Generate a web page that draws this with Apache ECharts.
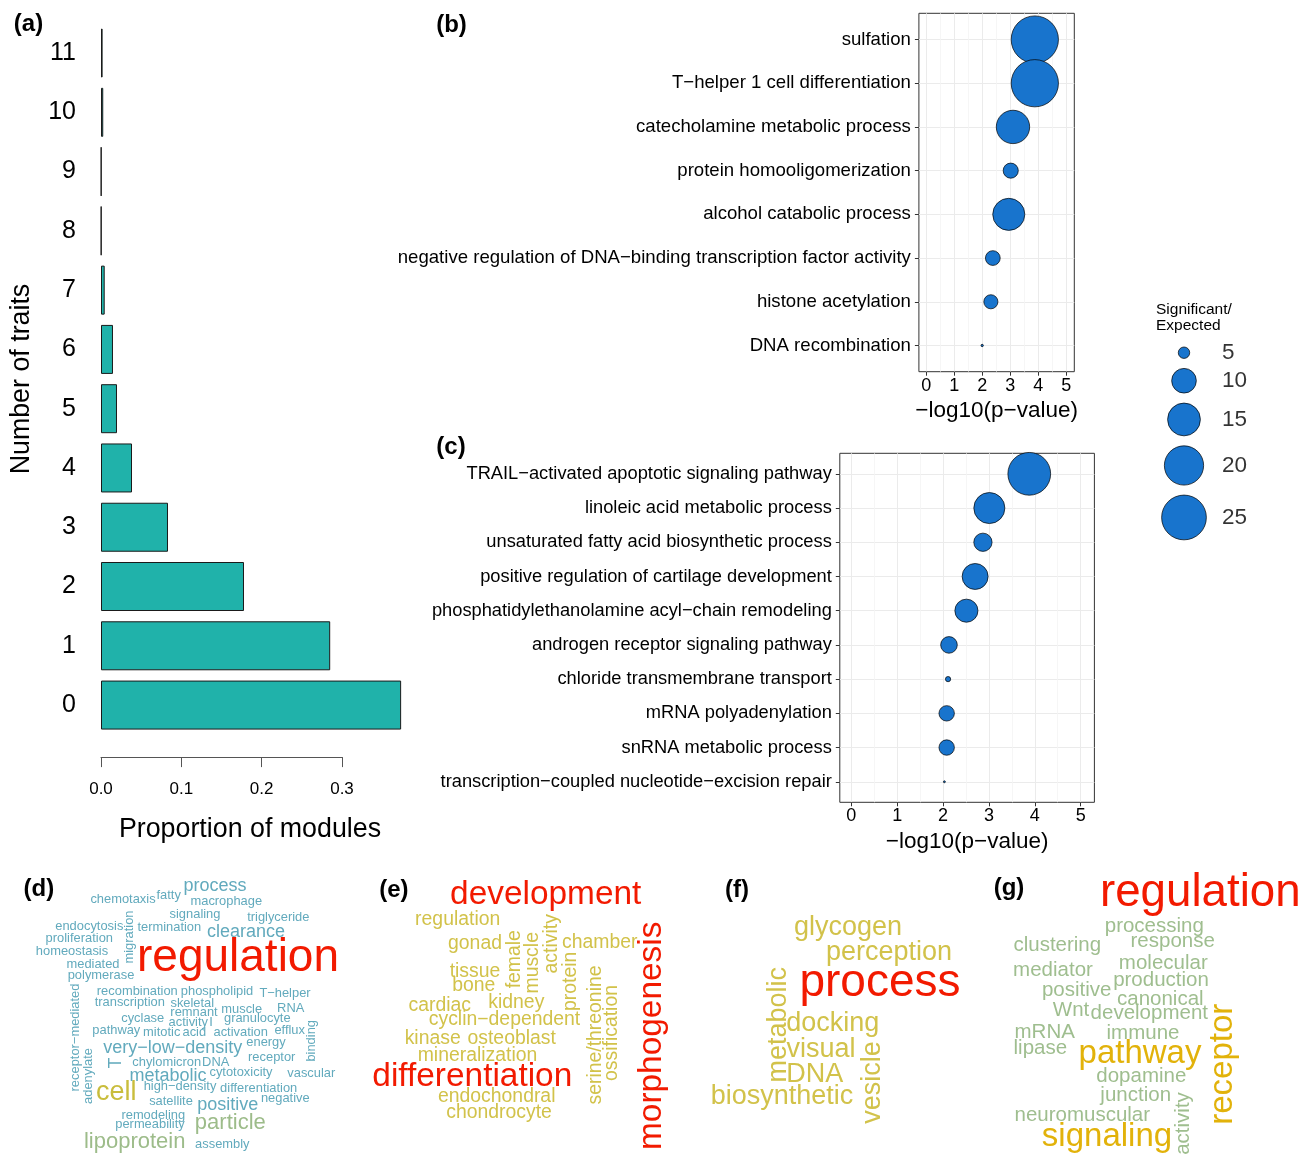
<!DOCTYPE html>
<html><head><meta charset="utf-8">
<script src="https://cdn.jsdelivr.net/npm/echarts@6/dist/echarts.min.js"></script>
<style>html,body{margin:0;padding:0;background:#fff}#c{width:1312px;height:1155px}</style>
</head><body><div id="c"></div>
<script>
// ---------- (a) ----------
const traitCats = ['0','1','2','3','4','5','6','7','8','9','10','11'];
const moduleProportion = [0.3736,0.2853,0.1780,0.0834,0.0386,0.0199,0.0149,0.0046,0.0004,0.0004,0.0028,0.0020];
// ---------- (b) ----------
const bTerms = ['sulfation','T\u2212helper 1 cell differentiation','catecholamine metabolic process','protein homooligomerization','alcohol catabolic process','negative regulation of DNA\u2212binding transcription factor activity','histone acetylation','DNA recombination'];
const bLogP = [3.88,3.88,3.10,3.02,2.95,2.38,2.31,2.00];
const bRatio = [27.5,27.5,15.4,6.0,14.5,5.9,5.7,3.82];
// ---------- (c) ----------
const cTerms = ['TRAIL\u2212activated apoptotic signaling pathway','linoleic acid metabolic process','unsaturated fatty acid biosynthetic process','positive regulation of cartilage development','phosphatidylethanolamine acyl\u2212chain remodeling','androgen receptor signaling pathway','chloride transmembrane transport','mRNA polyadenylation','snRNA metabolic process','transcription\u2212coupled nucleotide\u2212excision repair'];
const cLogP = [3.88,3.01,2.87,2.70,2.51,2.13,2.11,2.08,2.08,2.03];
const cRatio = [23.1,13.8,7.1,10.7,9.2,6.5,4.0,6.1,6.1,3.81];
const pTicks = [0,1,2,3,4,5];
const pMinorTicks = [0.5,1.5,2.5,3.5,4.5];
const sizeLegend = [5,10,15,20,25];
// ---------- word clouds: [word, frequency] ----------
const wordsD = [['regulation',8],['cell',4],['particle',3],['lipoprotein',3],['process',2],['clearance',2],['very\u2212low\u2212density',2],['metabolic',2],['positive',2],['T',2],
 ['chemotaxis',1],['fatty',1],['macrophage',1],['signaling',1],['triglyceride',1],['endocytosis',1],['migration',1],['termination',1],['proliferation',1],['homeostasis',1],['mediated',1],['polymerase',1],['receptor\u2212mediated',1],['recombination',1],['phospholipid',1],['T\u2212helper',1],['transcription',1],['skeletal',1],['muscle',1],['RNA',1],['remnant',1],['cyclase',1],['granulocyte',1],['activity',1],['I',1],['pathway',1],['mitotic',1],['acid',1],['activation',1],['efflux',1],['binding',1],['energy',1],['adenylate',1],['receptor',1],['chylomicron',1],['DNA',1],['vascular',1],['cytotoxicity',1],['high\u2212density',1],['differentiation',1],['satellite',1],['negative',1],['remodeling',1],['permeability',1],['assembly',1]];
const wordsE = [['development',3],['differentiation',3],['morphogenesis',3],['regulation',1],['gonad',1],['female',1],['muscle',1],['activity',1],['chamber',1],['tissue',1],['bone',1],['protein',1],['serine/threonine',1],['ossification',1],['cardiac',1],['kidney',1],['cyclin\u2212dependent',1],['kinase',1],['osteoblast',1],['mineralization',1],['endochondral',1],['chondrocyte',1]];
const wordsF = [['process',3],['glycogen',1],['perception',1],['metabolic',1],['docking',1],['visual',1],['DNA',1],['vesicle',1],['biosynthetic',1]];
const wordsG = [['regulation',4],['pathway',3],['receptor',3],['signaling',3],['processing',1],['response',1],['clustering',1],['mediator',1],['molecular',1],['production',1],['positive',1],['canonical',1],['Wnt',1],['development',1],['mRNA',1],['immune',1],['lipase',1],['dopamine',1],['junction',1],['activity',1],['neuromuscular',1]];

// ---------- layout (word-cloud placement: x, y, rotation) ----------
const layoutD = {'regulation':[238,955.6,0],'cell':[116.3,1091.2,0],'particle':[230.3,1121.6,0],'lipoprotein':[134.7,1140.6,0],'process':[215,885.4,0],'clearance':[246,931,0],'very\u2212low\u2212density':[172.7,1046.9,0],'metabolic':[168,1075.4,0],'positive':[227.7,1104.4,0],'T':[115,1063,90],
 'chemotaxis':[123,899.1,0],'fatty':[168.7,894.5,0],'macrophage':[226.3,901.1,0],'signaling':[195,913.8,0],'triglyceride':[278.3,917.1,0],'endocytosis':[89.3,926.1,0],'migration':[128.5,937,90],'termination':[169.3,927.1,0],'proliferation':[79.3,938.1,0],'homeostasis':[72,951.1,0],'mediated':[93,964.1,0],'polymerase':[101,974.8,0],'receptor\u2212mediated':[74.8,1037.5,90],'recombination':[137.3,990.4,0],'phospholipid':[217,990.4,0],'T\u2212helper':[285,993.1,0],'transcription':[129.8,1002.1,0],'skeletal':[192.3,1003.1,0],'muscle':[241.7,1008.8,0],'RNA':[290.7,1008.1,0],'remnant':[194,1012.1,0],'cyclase':[142.7,1017.4,0],'granulocyte':[257.3,1017.8,0],'activity':[188.3,1021.4,0],'I':[211,1022,0],'pathway':[116.3,1029.4,0],'mitotic':[161.7,1031.4,0],'acid':[194.3,1031.4,0],'activation':[240.7,1031.4,0],'efflux':[289.7,1030.1,0],'binding':[310.8,1040.8,90],'energy':[266,1041.4,0],'adenylate':[88.1,1076,90],'receptor':[271.7,1057.1,0],'chylomicron':[166.7,1061.4,0],'DNA':[215.7,1062.1,0],'vascular':[311.3,1072.8,0],'cytotoxicity':[241,1072.1,0],'high\u2212density':[180,1086.1,0],'differentiation':[258.7,1087.8,0],'satellite':[171,1100.4,0],'negative':[285.3,1097.8,0],'remodeling':[153.3,1114.4,0],'permeability':[150,1123.8,0],'assembly':[222.3,1143.7,0]};
const layoutE = {'development':[545.7,892.7,0],'differentiation':[472.3,1074.9,0],'morphogenesis':[650,1035.8,90],'regulation':[457.7,918.2,0],'gonad':[475,942.6,0],'female':[513,959.2,90],'muscle':[531.3,962.8,90],'activity':[550.4,943.8,90],'chamber':[599.7,941.9,0],'tissue':[475,970.6,0],'bone':[473.7,984.9,0],'protein':[569,981.3,90],'serine/threonine':[594.5,1035,90],'ossification':[610.8,1033,90],'cardiac':[439.7,1004,0],'kidney':[516.3,1001,0],'cyclin\u2212dependent':[504.5,1018.8,0],'kinase':[432.7,1037,0],'osteoblast':[511.7,1037,0],'mineralization':[477.5,1054.2,0],'endochondral':[496.7,1095.9,0],'chondrocyte':[499,1111.4,0]};
const layoutF = {'process':[880,980.6,0],'glycogen':[848,925.5,0],'perception':[889,950.5,0],'metabolic':[777,1024.7,90],'docking':[832.7,1022.3,0],'visual':[821,1047.9,0],'DNA':[814.7,1073.2,0],'vesicle':[871.3,1082.5,90],'biosynthetic':[782,1094.5,0]};
const layoutG = {'regulation':[1200.3,890.7,0],'pathway':[1140,1051.8,0],'receptor':[1220.5,1064.2,90],'signaling':[1107,1135,0],'processing':[1154.3,925.5,0],'response':[1172.7,940.2,0],'clustering':[1057.3,944.5,0],'mediator':[1053,969.5,0],'molecular':[1163.3,962.1,0],'production':[1161,978.8,0],'positive':[1076.7,989.5,0],'canonical':[1160.3,997.8,0],'Wnt':[1071,1009.5,0],'development':[1149.3,1012.1,0],'mRNA':[1044.7,1031.1,0],'immune':[1143,1032.1,0],'lipase':[1040.3,1046.8,0],'dopamine':[1141.3,1075.5,0],'junction':[1135.7,1094.5,0],'activity':[1182.3,1123.5,90],'neuromuscular':[1082.3,1114.5,0]};
// frequency -> font size / colour per cloud
const RED = '#F21A00';
const styleD = {8:[46,RED],4:[27,'#C9BD3C'],3:[22,'#9DBC8A'],2:[18,'#62AABD'],1:[12.9,'#62AABD']};
const styleE = {3:[33.4,RED],1:[19.4,'#D2C24A']};
const styleF = {3:[46,RED],1:[27,'#D2C24A']};
const styleG = {4:[45.7,RED],3:[33,'#E2B20A'],1:[20.5,'#9FBE8F']};

const FONT = '"Liberation Sans", Arial, Helvetica, sans-serif';
function bubbleSize(v){ return 1 + 9.5*Math.sqrt(Math.max(v-3.8,0)); }

function cloudSeries(words, layout, style){
  return {
    type:'scatter', xAxisIndex:6, yAxisIndex:4, silent:true, symbolSize:1,
    itemStyle:{color:'rgba(0,0,0,0)'}, animation:false, clip:false,
    label:{show:true, position:'inside', formatter:'{b}', fontFamily:FONT, textBorderWidth:0, opacity:1},
    data: words.map(([w,f]) => {
      const L = layout[w], s = style[f];
      const dx = L[2] ? s[0]*0.06 : 0, dy = L[2] ? 0 : s[0]*0.06;
      return {name:w, value:[L[0]+dx, L[1]+dy], label:{fontSize:s[0], color:s[1], rotate:L[2]}};
    })
  };
}

// legend positions from symbol sizes
const legY = []; { let acc=0; sizeLegend.forEach(v=>{ const d=bubbleSize(v); legY.push(acc+(d+10)/2); acc+=d+10; }); }

function dotAxisX(gridIndex, min, max){
  return {type:'value', gridIndex, min, max, position:'bottom',
    axisLine:{show:false, onZero:false},
    axisTick:{show:true, customValues:pTicks, length:4, lineStyle:{color:'#333'}},
    axisLabel:{customValues:pTicks, fontSize:18, color:'#000', fontFamily:FONT, margin:5},
    splitLine:{show:true, lineStyle:{color:'#EBEBEB', width:1}},
    name:'\u2212log10(p\u2212value)', nameLocation:'middle', nameGap:28,
    nameTextStyle:{fontSize:22.5, color:'#000', fontFamily:FONT}};
}
function minorAxisX(gridIndex, min, max){
  return {type:'value', gridIndex, min, max, position:'top',
    axisLine:{show:false, onZero:false}, axisLabel:{show:false},
    axisTick:{show:false, customValues:pMinorTicks},
    splitLine:{show:true, lineStyle:{color:'#F4F4F4', width:0.8}}};
}
function dotAxisY(gridIndex, terms, fs){
  return {type:'value', gridIndex, min:-0.6, max:terms.length-1+0.6, inverse:true, position:'left',
    axisLine:{show:false, onZero:false},
    axisTick:{show:true, customValues:terms.map((t,i)=>i), length:4, lineStyle:{color:'#333'}},
    axisLabel:{customValues:terms.map((t,i)=>i), formatter:v=>terms[Math.round(v)], fontSize:fs, color:'#000', fontFamily:FONT, margin:8},
    splitLine:{show:true, lineStyle:{color:'#EBEBEB', width:1}}};
}
function dotSeries(xi, yi, logp, ratio){
  return {type:'scatter', xAxisIndex:xi, yAxisIndex:yi, clip:false,
    data: logp.map((x,i)=>[x,i,ratio[i]]),
    symbolSize: v=>bubbleSize(v[2]),
    itemStyle:{color:'#1874CD', borderColor:'#000', borderWidth:0.7, opacity:1}};
}

const chart = echarts.init(document.getElementById('c'), null, {renderer:'canvas'});
const gridBase = {containLabel:false, outerBoundsMode:'none'};
const lbl = (t,x,y)=>({type:'text', style:{text:t, x, y, textAlign:'center', textVerticalAlign:'middle', font:'bold 24px '+FONT, fill:'#000'}});
chart.setOption({
  animation:false,
  backgroundColor:'#fff',
  textStyle:{fontFamily:FONT},
  grid:[
    Object.assign({left:101, top:23.4, width:241, height:711.3}, gridBase),
    Object.assign({left:918.9, top:13.3, width:155.4, height:358.4, show:true, borderColor:'#333', borderWidth:1}, gridBase),
    Object.assign({left:839.8, top:453.3, width:254.6, height:349, show:true, borderColor:'#333', borderWidth:1}, gridBase),
    Object.assign({left:1150, top:342, width:100, height:200}, gridBase),
    Object.assign({left:0, top:860, width:1312, height:295}, gridBase)
  ],
  xAxis:[
    {type:'value', gridIndex:0, min:0, max:0.3, interval:0.1, offset:22.4, position:'bottom',
      axisLine:{show:true, onZero:false, lineStyle:{color:'#555', width:1}},
      axisTick:{show:true, length:10, lineStyle:{color:'#555', width:1}},
      axisLabel:{formatter:v=>v.toFixed(1), fontSize:17, color:'#000', margin:24, fontFamily:FONT},
      splitLine:{show:false}},
    dotAxisX(1, -0.26, 5.29),
    minorAxisX(1, -0.26, 5.29),
    dotAxisX(2, -0.25, 5.3),
    minorAxisX(2, -0.25, 5.3),
    {type:'value', gridIndex:3, min:0, max:100, show:false},
    {type:'value', gridIndex:4, min:0, max:1312, show:false}
  ],
  yAxis:[
    {type:'category', gridIndex:0, data:traitCats,
      axisLine:{show:false}, axisTick:{show:false},
      axisLabel:{fontSize:25, color:'#000', margin:25, fontFamily:FONT},
      name:'Number of traits', nameLocation:'middle', nameGap:66, nameRotate:90,
      nameTextStyle:{fontSize:26.8, color:'#000', fontFamily:FONT}},
    dotAxisY(1, bTerms, 18.6),
    dotAxisY(2, cTerms, 18.3),
    {type:'value', gridIndex:3, min:0, max:200, inverse:true, show:false},
    {type:'value', gridIndex:4, min:860, max:1155, inverse:true, show:false}
  ],
  series:[
    {type:'bar', xAxisIndex:0, yAxisIndex:0, data:moduleProportion, barWidth:49, clip:false,
      itemStyle:{color:'#20B2AA', borderColor:'#1a1a1a', borderWidth:1}},
    dotSeries(1,1,bLogP,bRatio),
    dotSeries(3,2,cLogP,cRatio),
    {type:'scatter', xAxisIndex:5, yAxisIndex:3, clip:false,
      data: sizeLegend.map((v,i)=>[34, legY[i], v]),
      symbolSize: v=>bubbleSize(v[2]),
      itemStyle:{color:'#1874CD', borderColor:'#000', borderWidth:0.7, opacity:1}},
    {type:'scatter', xAxisIndex:5, yAxisIndex:3, clip:false, symbolSize:1, itemStyle:{color:'rgba(0,0,0,0)'},
      label:{show:true, position:'inside', align:'left', formatter:p=>String(p.value[2]), fontSize:22.5, color:'#000', fontFamily:FONT},
      data: sizeLegend.map((v,i)=>[72, legY[i], v])},
    cloudSeries(wordsD, layoutD, styleD),
    cloudSeries(wordsE, layoutE, styleE),
    cloudSeries(wordsF, layoutF, styleF),
    cloudSeries(wordsG, layoutG, styleG)
  ],
  graphic:[
    lbl('(a)', 28.5, 24.5),
    lbl('(b)', 451.5, 25.5),
    lbl('(c)', 451, 447.5),
    lbl('(d)', 38.8, 889.5),
    lbl('(e)', 393.8, 890.7),
    lbl('(f)', 737, 890.7),
    lbl('(g)', 1009, 888.3),
    {type:'text', style:{text:'Proportion of modules', x:250, y:830, textAlign:'center', textVerticalAlign:'middle', font:'26.8px '+FONT, fill:'#000'}},
    {type:'text', style:{text:'Significant/\nExpected', x:1156, y:302, textAlign:'left', textVerticalAlign:'top', font:'15.5px '+FONT, lineHeight:16, fill:'#000'}}
  ]
});
</script></body></html>
